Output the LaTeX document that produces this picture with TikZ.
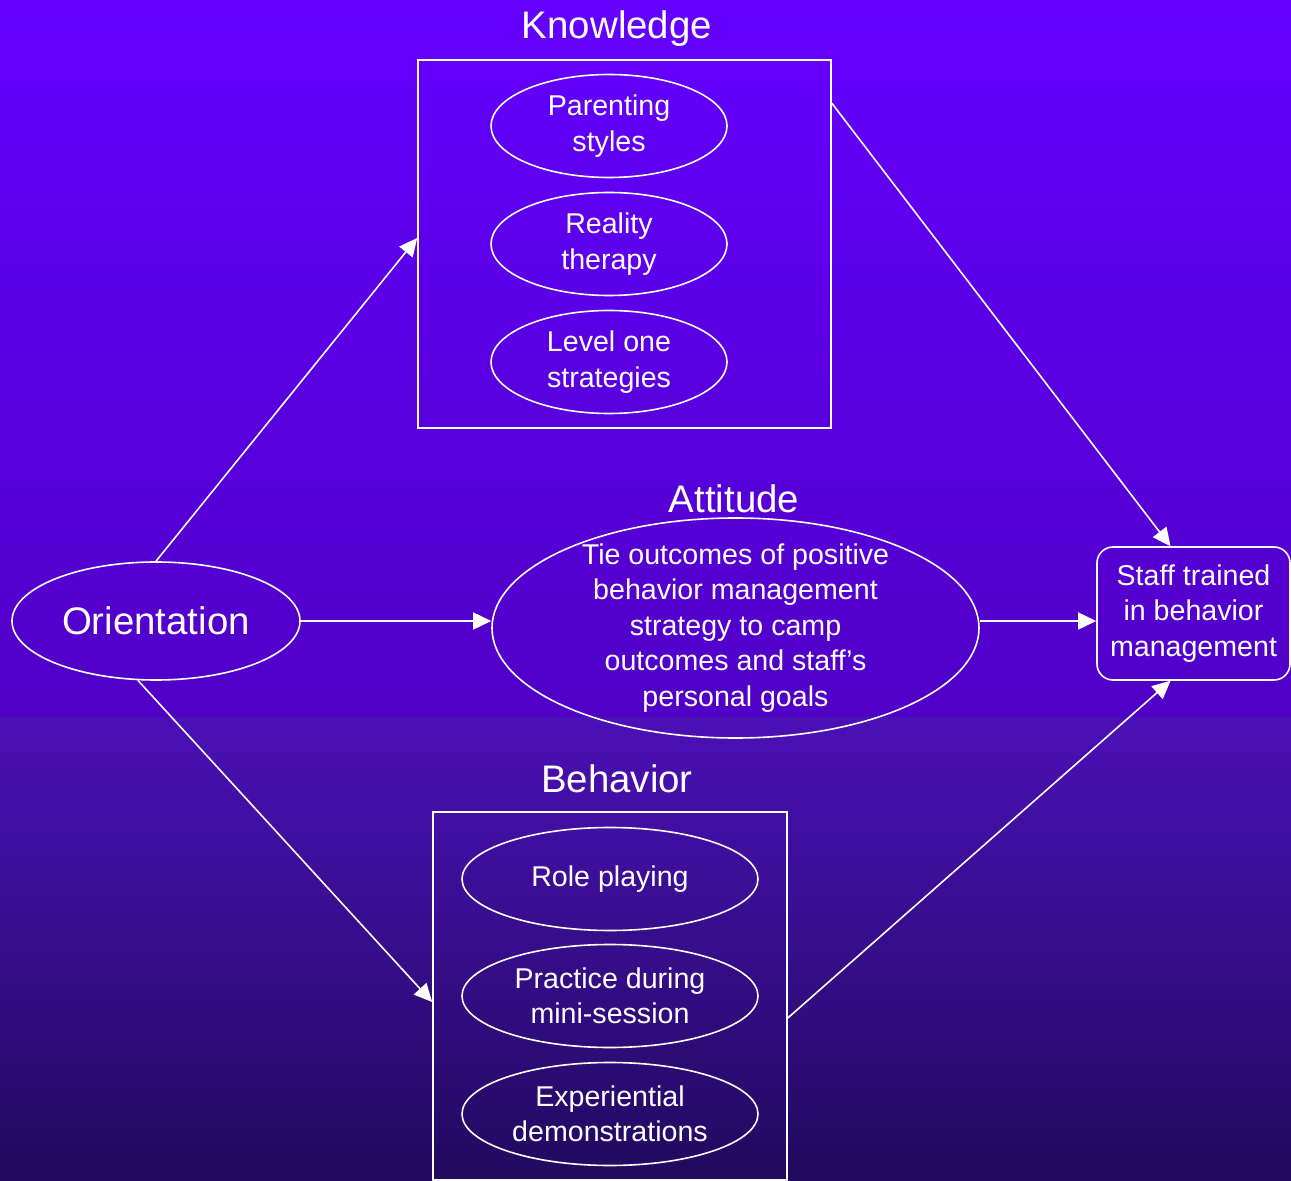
\documentclass[tikz,border=0pt]{standalone}
\usepackage{fontspec}
\setmainfont{Liberation Sans}
\usetikzlibrary{arrows.meta}
\usetikzlibrary{shapes.geometric}
\tikzset{>={Triangle[width=8.5pt,length=9pt]}}

\definecolor{bgtop}{HTML}{6400FF}
\definecolor{bgmid}{HTML}{5000C6}
\definecolor{bglow}{HTML}{4B10B6}
\definecolor{bgbot}{HTML}{210A5E}

\tikzset{
  oval/.style={draw=white, line width=0.8pt, ellipse, inner sep=0pt, text=white, align=center,
    font=\fontsize{14.3}{17.75}\selectfont},
  group/.style={draw=white, line width=0.8pt, rectangle, inner sep=0pt},
  heading/.style={text=white, font=\fontsize{19.2}{23}\selectfont},
  link/.style={white, line width=0.8pt, ->}
}

\begin{document}
\begin{tikzpicture}[x=0.5pt,y=-0.5pt]

  \shade[top color=bgtop, bottom color=bgmid] (0,0) rectangle (1291,718);
  \shade[top color=bglow, bottom color=bgbot] (0,718) rectangle (1291,1181);
  \useasboundingbox (0,0) rectangle (1291,1181);

  \node[oval, minimum width=144pt, minimum height=59pt, font=\fontsize{19.2}{23}\selectfont] (orient) at (156,621) {Orientation};

  % knowledge
  \node[group, minimum width=206.5pt, minimum height=184pt] (know) at (624.5,244) {};
  \node[heading] (knowtitle) at (617,29) {Knowledge};
  \node[oval, minimum width=118pt, minimum height=51.5pt] (parent) at (609,126) {Parenting\\styles};
  \node[oval, minimum width=118pt, minimum height=51.5pt] (reality) at (609,244) {Reality\\therapy};
  \node[oval, minimum width=118pt, minimum height=51.5pt] (levelone) at (609,362) {Level one\\strategies};

  % attitude
  \node[oval, minimum width=243.5pt, minimum height=110pt, inner ysep=-3.5pt] (att) at (735.5,628)
    {Tie outcomes of positive\\behavior management\\strategy to camp\\outcomes and staff’s\\personal goals};
  \node[heading] (atttitle) at (734,499) {Attitude};

  % behavior
  \node[group, minimum width=177pt, minimum height=184pt] (beh) at (610,996) {};
  \node[heading] (behtitle) at (617,779) {Behavior};
  \node[oval, minimum width=148pt, minimum height=51.5pt] (role) at (610,879) {Role playing};
  \node[oval, minimum width=148pt, minimum height=51.5pt] (practice) at (610,996) {Practice during\\mini-session};
  \node[oval, minimum width=148pt, minimum height=51.5pt] (demo) at (610,1114) {Experiential\\demonstrations};

  \node[draw=white, line width=0.8pt, rounded corners=8pt, minimum width=96.5pt, minimum height=66.5pt,
    inner sep=0pt, text=white, align=center, font=\fontsize{14.3}{17.75}\selectfont] (staff) at (1193.5,613.5)
    {Staff trained\\in behavior\\management};

  \coordinate (attout) at (att.east |- orient.east);

  \draw[link] (orient.north) -- ([yshift=3pt]know.west);
  \draw[link] (orient.east) -- (orient.east -| att.west);
  \draw[link] (orient.-107) -- ([yshift=-3pt]beh.west);

  \draw[link] ([yshift=-22pt]know.north east) -- ([xshift=-11.5pt]staff.north);
  \draw[link] (attout) -- (attout -| staff.west);
  \draw[link] ([yshift=-11pt]beh.east) -- ([xshift=-11.5pt]staff.south);

\end{tikzpicture}
\end{document}
